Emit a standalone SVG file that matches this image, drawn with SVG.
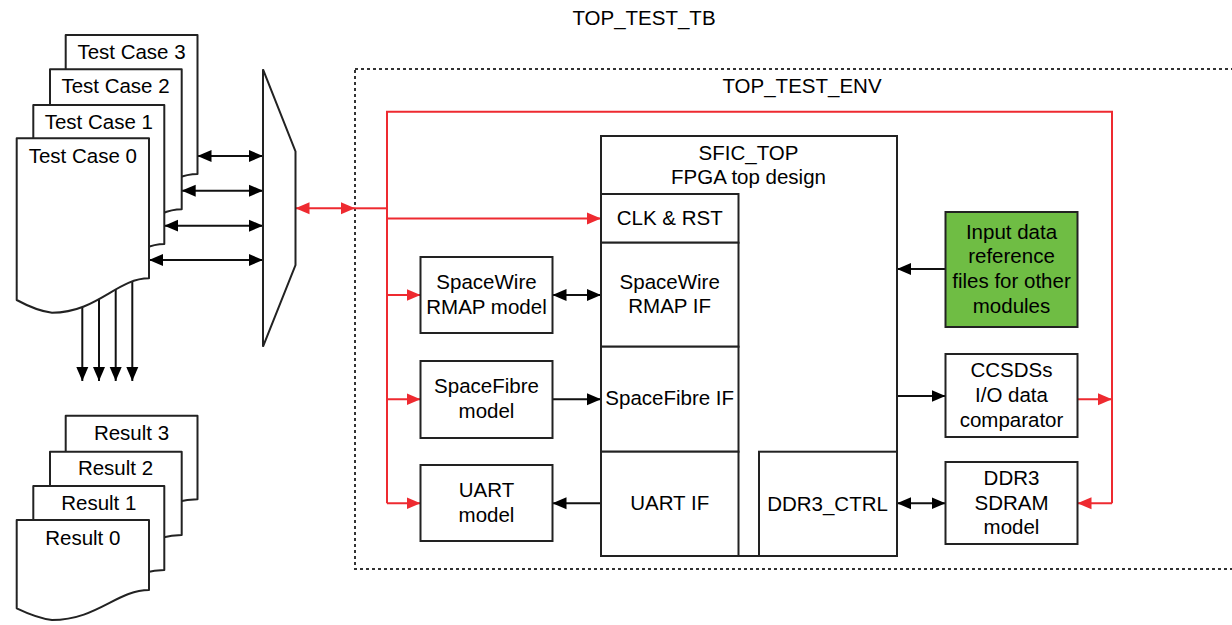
<svg xmlns="http://www.w3.org/2000/svg" width="1232" height="625" viewBox="0 0 1232 625">
<style>
text{font-family:"Liberation Sans",Arial,sans-serif;font-size:20.5px;fill:#000;text-anchor:middle}
.box{fill:#fff;stroke:#222;stroke-width:2}
.green{fill:#6fbd44;stroke:#222;stroke-width:2}
.doc{fill:#fff;stroke:#222;stroke-width:2;stroke-linejoin:round}
.env{fill:none;stroke:#333;stroke-width:2;stroke-dasharray:3 3}
.blk{fill:none;stroke:#111;stroke-width:2}
.red{fill:none;stroke:#ee2a30;stroke-width:2}
</style>
<defs>
<marker id="ab" markerUnits="userSpaceOnUse" markerWidth="14" markerHeight="14" viewBox="0 0 14 12" refX="14" refY="6" orient="auto-start-reverse"><path d="M0,0 L14,6 L0,12 z" fill="#000"/></marker>
<marker id="ar" markerUnits="userSpaceOnUse" markerWidth="14" markerHeight="14" viewBox="0 0 14 12" refX="14" refY="6" orient="auto-start-reverse"><path d="M0,0 L14,6 L0,12 z" fill="#ee2a30"/></marker>
</defs>
<text x="644" y="25">TOP_TEST_TB</text>
<g id="top_test_env">
<rect class="env" x="355" y="69" width="900" height="500"/>
<text x="802" y="93">TOP_TEST_ENV</text>
</g>
<g id="connectors">
<path class="blk" d="M82.3,300 V381" marker-end="url(#ab)"/>
<path class="blk" d="M99,290 V381" marker-end="url(#ab)"/>
<path class="blk" d="M115.7,280 V381" marker-end="url(#ab)"/>
<path class="blk" d="M132.3,275 V381" marker-end="url(#ab)"/>
<path class="blk" d="M197.5,156 H263" marker-start="url(#ab)" marker-end="url(#ab)"/>
<path class="blk" d="M181.7,190.7 H263" marker-start="url(#ab)" marker-end="url(#ab)"/>
<path class="blk" d="M164.3,225.7 H263" marker-start="url(#ab)" marker-end="url(#ab)"/>
<path class="blk" d="M149,260 H263" marker-start="url(#ab)" marker-end="url(#ab)"/>
<path class="red" d="M295.5,208.3 H355" marker-start="url(#ar)" marker-end="url(#ar)"/>
<path class="red" d="M355,208.3 H387"/>
<path class="red" d="M387,503.3 V111.7 H1112 V503.3"/>
<path class="red" d="M387,218.5 H601" marker-end="url(#ar)"/>
<path class="red" d="M387,295 H420.5" marker-end="url(#ar)"/>
<path class="red" d="M387,399.3 H420.5" marker-end="url(#ar)"/>
<path class="red" d="M387,503.3 H420.5" marker-end="url(#ar)"/>
<path class="red" d="M1077.5,399.3 H1112" marker-end="url(#ar)"/>
<path class="red" d="M1112,503.3 H1077.5" marker-end="url(#ar)"/>
<path class="blk" d="M552.5,295 H601" marker-start="url(#ab)" marker-end="url(#ab)"/>
<path class="blk" d="M552.5,399.3 H601" marker-end="url(#ab)"/>
<path class="blk" d="M601,503.3 H552.5" marker-end="url(#ab)"/>
<path class="blk" d="M945.5,269 H897" marker-end="url(#ab)"/>
<path class="blk" d="M897,396 H945.5" marker-end="url(#ab)"/>
<path class="blk" d="M897,503.3 H945.5" marker-start="url(#ab)" marker-end="url(#ab)"/>
</g>
<g id="test_case_3">
<path class="doc" d="M65.7,35 H197.5 V174 C165,174 145,208 100,208 Q85,207 65.7,197 Z"/>
<text x="131.5" y="59">Test Case 3</text>
</g>
<g id="test_case_2">
<path class="doc" d="M50,69.3 H181.7 V209.3 C150,209.3 130,243 85,243 Q70,242 50,231 Z"/>
<text x="115.5" y="93.3">Test Case 2</text>
</g>
<g id="test_case_1">
<path class="doc" d="M33.3,105 H164.3 V244 C133,244 113,278 68,278 Q53,277 33.3,266 Z"/>
<text x="98.8" y="129.3">Test Case 1</text>
</g>
<g id="test_case_0">
<path class="doc" d="M16.7,138.3 H149 V278.3 C117,278.3 97,312.7 52,312.7 Q37,311 16.7,300 Z"/>
<text x="82.8" y="163.3">Test Case 0</text>
</g>
<g id="result_3">
<path class="doc" d="M65.7,415.7 H197.5 V499.3 C165,499.3 145,520 100,520 Q85,519 65.7,512 Z"/>
<text x="131.5" y="440">Result 3</text>
</g>
<g id="result_2">
<path class="doc" d="M50,451.7 H181.7 V535 C150,535 130,556 85,556 Q70,555 50,548 Z"/>
<text x="115.5" y="475">Result 2</text>
</g>
<g id="result_1">
<path class="doc" d="M33.3,486 H164.3 V570 C133,570 113,591 68,591 Q53,590 33.3,583 Z"/>
<text x="98.8" y="510">Result 1</text>
</g>
<g id="result_0">
<path class="doc" d="M16.7,520 H149 V590 C117,590 97,620 52,620 Q37,618 16.7,608.3 Z"/>
<text x="82.8" y="545">Result 0</text>
</g>
<g id="mux">
<polygon class="box" points="263,69.3 295.5,151.5 295.5,265 263,346.7"/>
</g>
<g id="sfic_top">
<rect class="box" x="601" y="136" width="296" height="420"/>
<text x="748.5" y="160">SFIC_TOP</text>
<text x="748.5" y="184.3">FPGA top design</text>
</g>
<g id="clk_rst">
<rect class="box" x="601" y="194" width="137.5" height="48.7"/>
<text x="669.7" y="225">CLK &amp; RST</text>
</g>
<g id="spacewire_if">
<rect class="box" x="601" y="242.7" width="137.5" height="104"/>
<text x="669.7" y="289">SpaceWire</text>
<text x="669.7" y="313.3">RMAP IF</text>
</g>
<g id="spacefibre_if">
<rect class="box" x="601" y="346.7" width="137.5" height="105"/>
<text x="669.7" y="405">SpaceFibre IF</text>
</g>
<g id="uart_if">
<rect class="box" x="601" y="451.7" width="137.5" height="104.3"/>
<text x="669.7" y="510">UART IF</text>
</g>
<g id="ddr3_ctrl">
<rect class="box" x="759" y="451.7" width="138" height="104.3"/>
<text x="827.5" y="510.5">DDR3_CTRL</text>
</g>
<g id="spacewire_model">
<rect class="box" x="420.5" y="257" width="132" height="76"/>
<text x="486.5" y="289.3">SpaceWire</text>
<text x="486.5" y="314.3">RMAP model</text>
</g>
<g id="spacefibre_model">
<rect class="box" x="420.5" y="361" width="132" height="77"/>
<text x="486.5" y="393.3">SpaceFibre</text>
<text x="486.5" y="417.7">model</text>
</g>
<g id="uart_model">
<rect class="box" x="420.5" y="465" width="132" height="76"/>
<text x="486.5" y="497.3">UART</text>
<text x="486.5" y="521.7">model</text>
</g>
<g id="input_data">
<rect class="green" x="945.5" y="212" width="132" height="115"/>
<text x="1011.5" y="239">Input data</text>
<text x="1011.5" y="263.3">reference</text>
<text x="1011.5" y="288.3">files for other</text>
<text x="1011.5" y="312.7">modules</text>
</g>
<g id="ccsds_comparator">
<rect class="box" x="945.5" y="354" width="132" height="83"/>
<text x="1011.5" y="377.3">CCSDSs</text>
<text x="1011.5" y="402.3">I/O data</text>
<text x="1011.5" y="427.3">comparator</text>
</g>
<g id="ddr3_sdram">
<rect class="box" x="945.5" y="462" width="132" height="82"/>
<text x="1011.5" y="485">DDR3</text>
<text x="1011.5" y="510">SDRAM</text>
<text x="1011.5" y="534.3">model</text>
</g>
</svg>
